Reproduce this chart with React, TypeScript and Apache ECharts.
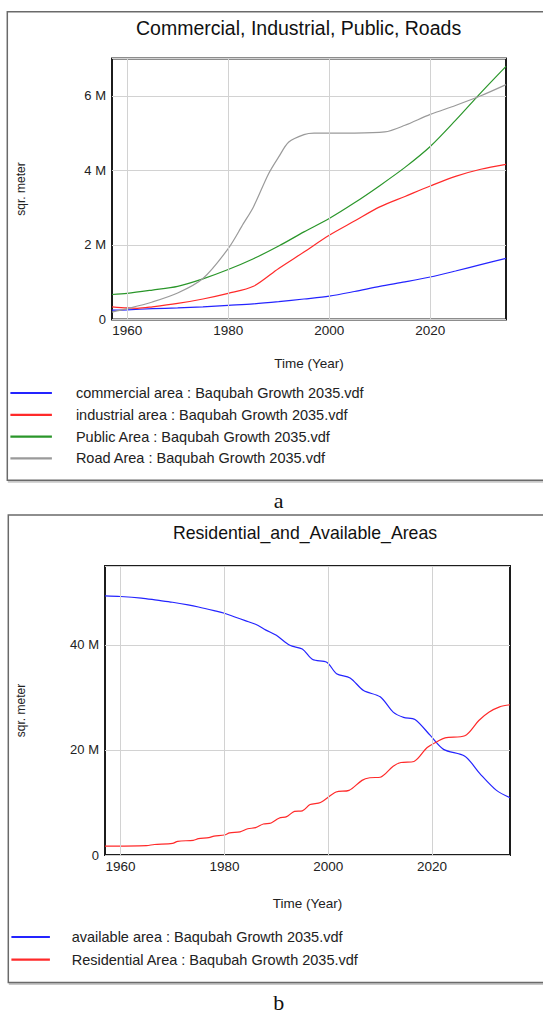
import React, { useEffect, useRef } from "react";
import * as echarts from "echarts";

// ---------- data ----------
const xTicks = [1960, 1980, 2000, 2020];

const topTitle = "Commercial, Industrial, Public, Roads";
const bottomTitle = "Residential_and_Available_Areas";
const xName = "Time (Year)";
const yName = "sqr. meter";

const topNames = [
  "commercial area : Baqubah Growth 2035.vdf",
  "industrial area : Baqubah Growth 2035.vdf",
  "Public Area : Baqubah Growth 2035.vdf",
  "Road Area : Baqubah Growth 2035.vdf",
];
const bottomNames = [
  "available area : Baqubah Growth 2035.vdf",
  "Residential Area : Baqubah Growth 2035.vdf",
];

// values in millions of sqr. meter, [year, value]
const commercialArea = [
  [1957, 0.25], [1960, 0.26], [1965, 0.29], [1970, 0.31], [1975, 0.34], [1980, 0.38],
  [1985, 0.42], [1990, 0.48], [1995, 0.55], [2000, 0.625], [2005, 0.75], [2010, 0.89],
  [2015, 1.01], [2020, 1.14], [2025, 1.3], [2030, 1.47], [2035, 1.64],
];
const industrialArea = [
  [1957, 0.34], [1960, 0.31], [1962, 0.3], [1965, 0.34], [1970, 0.43], [1975, 0.55],
  [1980, 0.7], [1985, 0.89], [1990, 1.37], [1995, 1.81], [2000, 2.26], [2005, 2.64],
  [2010, 3.02], [2015, 3.3], [2020, 3.58], [2025, 3.84], [2030, 4.03], [2035, 4.16],
];
const publicArea = [
  [1957, 0.67], [1960, 0.7], [1965, 0.79], [1970, 0.89], [1975, 1.09], [1980, 1.34],
  [1985, 1.63], [1990, 1.97], [1995, 2.35], [2000, 2.71], [2005, 3.13], [2010, 3.59],
  [2015, 4.08], [2020, 4.64], [2025, 5.34], [2030, 6.08], [2035, 6.79],
];
const roadArea = [
  [1957, 0.2], [1960, 0.29], [1965, 0.47], [1970, 0.71], [1975, 1.1], [1980, 1.9],
  [1983, 2.57], [1985, 3.02], [1988, 3.91], [1990, 4.36], [1992, 4.76], [1995, 4.96],
  [1997, 5.0], [2000, 5.0], [2005, 5.0], [2011, 5.03], [2015, 5.21], [2020, 5.5],
  [2025, 5.74], [2030, 6.0], [2035, 6.3],
];

const availableArea = [
  [1957, 49.3], [1960, 49.2], [1964, 48.9], [1967, 48.5], [1970, 48.1], [1973, 47.6],
  [1975, 47.2], [1978, 46.5], [1980, 46.0], [1982, 45.3], [1984, 44.6], [1986, 43.9],
  [1988, 42.8], [1990, 41.8], [1992.6, 39.9], [1995, 39.2], [1997, 37.2], [1999.7, 36.7],
  [2001.6, 34.5], [2004.2, 33.7], [2006.8, 31.3], [2010, 30.1], [2012.5, 27.2],
  [2014.5, 26.2], [2016.7, 25.8], [2019.6, 22.8], [2022.2, 20.1], [2026.3, 18.8],
  [2029.2, 15.5], [2032.4, 12.3], [2035, 10.9],
];
const residentialArea = [
  [1957, 1.7], [1965, 1.8], [1966.5, 2.0], [1970, 2.2], [1971, 2.6], [1974, 2.8],
  [1975, 3.1], [1977, 3.3], [1978, 3.6], [1980, 3.8], [1981, 4.2], [1983, 4.4],
  [1984.5, 5.0], [1986, 5.2], [1987.5, 5.9], [1989, 6.1], [1990.5, 7.0], [1992, 7.3],
  [1993.5, 8.3], [1995, 8.4], [1996.5, 9.6], [1998.5, 10.0], [2001.5, 12.0], [2004, 12.3],
  [2006.5, 14.2], [2008, 14.7], [2010, 14.8], [2012.5, 16.9], [2014, 17.6],
  [2016.5, 17.8], [2019, 20.4], [2021, 21.6], [2022.5, 22.3], [2026.3, 22.7],
  [2029, 25.6], [2031, 27.2], [2033, 28.2], [2035, 28.6],
];

const colors = {
  blue: "#2424ff",
  red: "#ff2a2a",
  green: "#2a962a",
  gray: "#9a9a9a",
};

const FONT = "'Liberation Sans', Arial, Helvetica, sans-serif";
const SERIF = "'Liberation Serif', 'Times New Roman', serif";
const GRID_COLOR = "#d2d2d2";

function xAxis(gridIndex: number, nameGap: number) {
  return {
    type: "value",
    gridIndex,
    min: 1957,
    max: 2035,
    name: xName,
    nameLocation: "middle",
    nameGap,
    nameTextStyle: { fontFamily: FONT, fontSize: 13.5, color: "#222" },
    axisLine: { show: false },
    axisTick: { show: false, customValues: xTicks },
    axisLabel: {
      customValues: xTicks,
      fontFamily: FONT,
      fontSize: 13.5,
      color: "#222",
      margin: 4,
      formatter: (v: number) => String(v),
    },
    splitLine: { show: false },
  };
}

function yAxis(gridIndex: number, max: number, interval: number, nameGap: number) {
  return {
    type: "value",
    gridIndex,
    min: 0,
    max,
    interval,
    name: yName,
    nameLocation: "middle",
    nameGap,
    nameRotate: 90,
    nameTextStyle: { fontFamily: FONT, fontSize: 12, color: "#222" },
    axisLine: { show: false },
    axisTick: { show: false },
    axisLabel: {
      showMaxLabel: false,
      fontFamily: FONT,
      fontSize: 13,
      color: "#222",
      margin: 6,
      formatter: (v: number) => (v === 0 ? "0" : v + " M"),
    },
    splitLine: { show: true, lineStyle: { color: GRID_COLOR, width: 1 } },
  };
}

function line(name: string, data: number[][], color: string, idx: number, withGrid = false) {
  const s: any = {
    type: "line",
    name,
    data,
    xAxisIndex: idx,
    yAxisIndex: idx,
    smooth: 0.3,
    symbol: "none",
    showSymbol: false,
    lineStyle: { color, width: 1.2 },
    itemStyle: { color },
  };
  if (withGrid) {
    s.markLine = {
      silent: true,
      symbol: "none",
      animation: false,
      label: { show: false },
      emphasis: { disabled: true },
      lineStyle: { color: GRID_COLOR, width: 1, type: "solid" },
      data: xTicks.map((v) => ({ xAxis: v })),
    };
  }
  return s;
}

function frame(y: number, h: number, x: number) {
  return [
    {
      type: "rect",
      shape: { x: x + 1.5, y: y + 1.5, width: 640, height: h },
      style: { fill: "none", stroke: "#c8c8c8", lineWidth: 2 },
      z: -10,
      silent: true,
    },
    {
      type: "rect",
      shape: { x, y, width: 640, height: h },
      style: { fill: "#fff", stroke: "#6a6a6a", lineWidth: 1.5 },
      z: -10,
      silent: true,
    },
  ];
}

function text(str: string, x: number, y: number, font: string) {
  return {
    type: "text",
    x,
    y,
    z: 10,
    style: {
      text: str,
      font,
      fill: "#111",
      align: "center",
      verticalAlign: "middle",
      textAlign: "center",
      textVerticalAlign: "middle",
    },
  };
}

function legend(names: string[], top: number, gap: number, iconLeft: number, iconW: number, pad: number) {
  return {
    data: names,
    orient: "vertical",
    left: iconLeft,
    top,
    padding: 0,
    icon: "rect",
    itemWidth: iconW,
    itemHeight: 2.2,
    itemGap: gap,
    selectedMode: false,
    textStyle: { fontFamily: FONT, fontSize: 14.5, color: "#222", padding: [0, 0, 0, pad] },
  };
}

export default function App() {
  const ref = useRef<HTMLDivElement>(null);
  useEffect(() => {
    if (!ref.current) return;
    const chart = echarts.init(ref.current, undefined, { renderer: "svg" });
    chart.setOption({
      animation: false,
      backgroundColor: "#fff",
      textStyle: { fontFamily: FONT },
      grid: [
        { left: 112, top: 58.5, width: 394, height: 261, show: true, borderColor: "#1c1c1c", borderWidth: 2 },
        { left: 105, top: 566, width: 405, height: 289, show: true, borderColor: "#1c1c1c", borderWidth: 2 },
      ],
      xAxis: [xAxis(0, 37), xAxis(1, 41)],
      yAxis: [yAxis(0, 7, 2, 85), yAxis(1, 55, 20, 78)],
      legend: [
        legend(topNames, 385.5, 6.8, 10.4, 41.5, 19),
        legend(bottomNames, 929.5, 7.6, 11.4, 38.5, 16.8),
      ],
      graphic: [
        ...frame(11.7, 468.5, 7.3),
        ...frame(515, 467.5, 8.3),
        text(topTitle, 298.6, 28.3, `19.5px ${FONT}`),
        text(bottomTitle, 305, 533.3, `17.7px ${FONT}`),
        text("a", 278.7, 500, `22px ${SERIF}`),
        text("b", 278.7, 1002, `22px ${SERIF}`),
      ],
      series: [
        line(topNames[0], commercialArea, colors.blue, 0, true),
        line(topNames[1], industrialArea, colors.red, 0),
        line(topNames[2], publicArea, colors.green, 0),
        line(topNames[3], roadArea, colors.gray, 0),
        line(bottomNames[0], availableArea, colors.blue, 1, true),
        line(bottomNames[1], residentialArea, colors.red, 1),
      ],
    });
    return () => chart.dispose();
  }, []);
  return (
    <div
      ref={ref}
      style={{ position: "fixed", left: 0, top: 0, width: 543, height: 1013, background: "#fff" }}
    />
  );
}
